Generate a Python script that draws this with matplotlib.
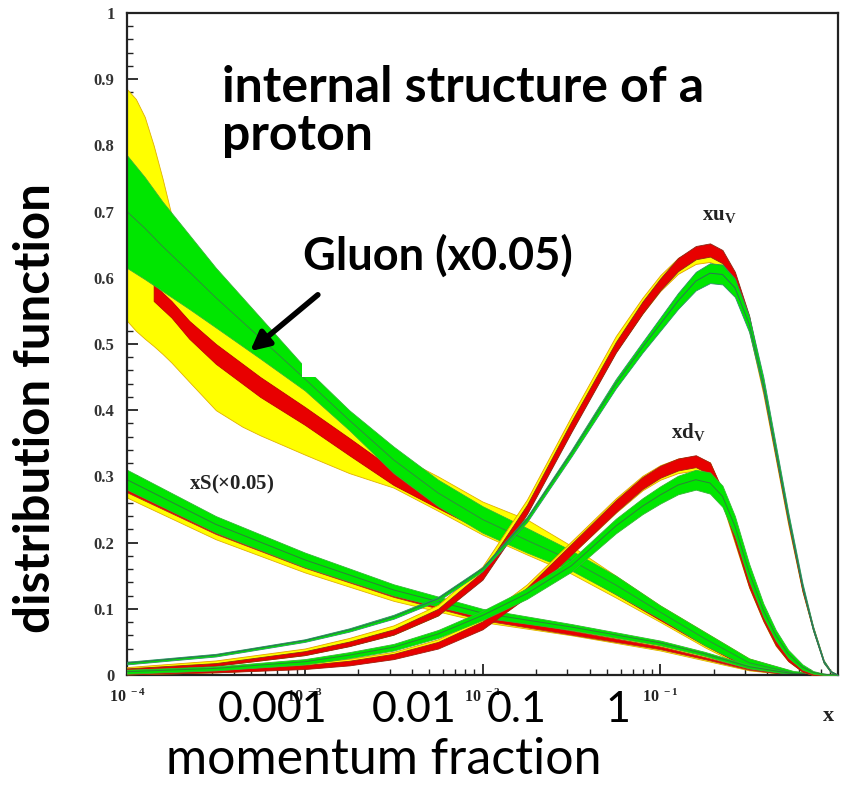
import numpy as np
import matplotlib
matplotlib.use("Agg")
import matplotlib.pyplot as plt
from matplotlib.patches import Rectangle
from matplotlib.ticker import MultipleLocator, LogLocator, NullFormatter

# ---------------- data (log10(x) positions) ----------------
# gluon (x0.05) bands
gl_lx = [-4, -3.9, -3.8, -3.65, -3.5, -3.25, -3, -2.75, -2.5, -2.25, -2, -1.75, -1.5, -1.25, -1, -0.75, -0.5, -0.25, 0]
gl_green_hi = [0.785, 0.752, 0.715, 0.665, 0.615, 0.54, 0.465, 0.40, 0.345, 0.295, 0.255, 0.222, 0.188, 0.15, 0.105, 0.065, 0.025, 0.006, 0.0]
gl_green_lo = [0.615, 0.598, 0.58, 0.553, 0.525, 0.478, 0.43, 0.37, 0.305, 0.255, 0.215, 0.185, 0.158, 0.122, 0.085, 0.045, 0.012, 0.0, 0.0]

gl_red_lx = [-3.85, -3.75, -3.65, -3.5, -3.25, -3, -2.75, -2.5, -2.25, -2, -1.75, -1.5, -1.25, -1, -0.75, -0.5, -0.25, 0]
gl_red_hi = [0.59, 0.565, 0.535, 0.50, 0.45, 0.405, 0.358, 0.31, 0.272, 0.238, 0.21, 0.18, 0.14, 0.098, 0.058, 0.02, 0.004, 0.0]
gl_red_lo = [0.565, 0.54, 0.508, 0.47, 0.42, 0.378, 0.332, 0.287, 0.252, 0.218, 0.19, 0.16, 0.122, 0.083, 0.045, 0.01, 0.0, 0.0]

gl_yel_lx = [-4, -3.95, -3.9, -3.85, -3.8, -3.75, -3.65, -3.5, -3.35, -3.25, -3, -2.75, -2.5, -2.25, -2, -1.75, -1.5, -1.25, -1, -0.75, -0.5, -0.25, 0]
gl_yel_hi = [0.885, 0.87, 0.843, 0.80, 0.75, 0.695, 0.64, 0.58, 0.535, 0.505, 0.445, 0.385, 0.335, 0.30, 0.262, 0.235, 0.195, 0.15, 0.105, 0.065, 0.025, 0.005, 0.0]
gl_yel_lo = [0.535, 0.52, 0.508, 0.497, 0.485, 0.472, 0.443, 0.40, 0.375, 0.362, 0.333, 0.305, 0.283, 0.248, 0.212, 0.182, 0.153, 0.117, 0.08, 0.042, 0.008, 0.0, 0.0]

# sea quarks xS (x0.05)
s_lx = [-4, -3.5, -3, -2.5, -2, -1.5, -1, -0.75, -0.5, -0.25, 0]
s_green_hi = [0.31, 0.24, 0.185, 0.137, 0.1, 0.077, 0.052, 0.035, 0.015, 0.003, 0.0]
s_green_lo = [0.28, 0.215, 0.163, 0.12, 0.087, 0.068, 0.045, 0.029, 0.01, 0.001, 0.0]
s_yel_hi = [0.30, 0.232, 0.178, 0.132, 0.094, 0.07, 0.046, 0.03, 0.012, 0.002, 0.0]
s_yel_lo = [0.268, 0.205, 0.155, 0.112, 0.08, 0.06, 0.037, 0.022, 0.007, 0.0, 0.0]
s_red_hi = [0.292, 0.226, 0.174, 0.128, 0.091, 0.067, 0.043, 0.027, 0.01, 0.001, 0.0]
s_red_lo = [0.276, 0.213, 0.162, 0.118, 0.083, 0.061, 0.039, 0.024, 0.008, 0.0, 0.0]

# valence up xu_v (centre and half width)
u_lx = [-4, -3.5, -3, -2.75, -2.5, -2.25, -2, -1.75, -1.5, -1.25, -1.1, -1, -0.9, -0.8, -0.72, -0.65,
        -0.58, -0.5, -0.42, -0.35, -0.28, -0.2, -0.14, -0.08, -0.04, 0]
u_red = [0.008, 0.016, 0.033, 0.047, 0.065, 0.095, 0.15, 0.25, 0.375, 0.495, 0.555, 0.59, 0.62, 0.638, 0.642, 0.632,
         0.6, 0.535, 0.435, 0.335, 0.235, 0.13, 0.07, 0.02, 0.005, 0.0]
u_red_w = [0.002, 0.002, 0.003, 0.0035, 0.004, 0.005, 0.006, 0.007, 0.008, 0.008, 0.009, 0.009, 0.01, 0.01, 0.01, 0.01,
           0.009, 0.008, 0.006, 0.005, 0.004, 0.003, 0.002, 0.001, 0.0005, 0.0]
u_yel = [0.009, 0.018, 0.035, 0.05, 0.068, 0.098, 0.155, 0.255, 0.38, 0.5, 0.558, 0.592, 0.618, 0.633, 0.636, 0.626,
         0.595, 0.53, 0.432, 0.333, 0.233, 0.13, 0.07, 0.02, 0.005, 0.0]
u_yel_w = [0.003, 0.004, 0.005, 0.006, 0.007, 0.008, 0.009, 0.01, 0.011, 0.012, 0.012, 0.012, 0.012, 0.012, 0.012, 0.012,
           0.011, 0.01, 0.008, 0.007, 0.006, 0.004, 0.003, 0.002, 0.001, 0.0]
u_green = [0.018, 0.03, 0.052, 0.068, 0.088, 0.115, 0.16, 0.235, 0.335, 0.44, 0.495, 0.53, 0.565, 0.595, 0.607, 0.605,
           0.585, 0.53, 0.44, 0.34, 0.24, 0.135, 0.07, 0.02, 0.005, 0.0]
u_green_w = [0.002, 0.002, 0.002, 0.0025, 0.003, 0.003, 0.003, 0.004, 0.005, 0.007, 0.008, 0.01, 0.012, 0.014, 0.015, 0.015,
             0.014, 0.012, 0.01, 0.008, 0.006, 0.004, 0.003, 0.002, 0.001, 0.0]

# valence down xd_v (centre and half width)
d_lx = [-4, -3.5, -3, -2.75, -2.5, -2.25, -2, -1.75, -1.5, -1.25, -1.1, -1, -0.9, -0.8, -0.72, -0.65,
        -0.58, -0.5, -0.42, -0.35, -0.28, -0.2, -0.14, -0.08, 0]
d_red = [0.003, 0.006, 0.012, 0.018, 0.028, 0.045, 0.075, 0.125, 0.19, 0.255, 0.29, 0.307, 0.318, 0.323, 0.312, 0.27,
         0.21, 0.14, 0.088, 0.05, 0.025, 0.008, 0.002, 0.0, 0.0]
d_red_w = [0.002, 0.002, 0.003, 0.0035, 0.004, 0.005, 0.006, 0.007, 0.008, 0.009, 0.009, 0.009, 0.009, 0.009, 0.009, 0.009,
           0.008, 0.007, 0.006, 0.005, 0.004, 0.003, 0.002, 0.001, 0.0]
d_yel = [0.004, 0.007, 0.014, 0.02, 0.03, 0.048, 0.078, 0.128, 0.192, 0.256, 0.29, 0.306, 0.316, 0.32, 0.31, 0.268,
         0.208, 0.14, 0.088, 0.05, 0.025, 0.008, 0.002, 0.0, 0.0]
d_yel_w = [0.003, 0.003, 0.004, 0.0045, 0.005, 0.006, 0.008, 0.009, 0.01, 0.011, 0.011, 0.011, 0.011, 0.011, 0.011, 0.01,
           0.009, 0.008, 0.007, 0.006, 0.004, 0.003, 0.002, 0.001, 0.0]
d_green = [0.005, 0.01, 0.02, 0.03, 0.042, 0.062, 0.09, 0.123, 0.165, 0.225, 0.255, 0.272, 0.287, 0.295, 0.29, 0.27,
           0.225, 0.155, 0.098, 0.06, 0.032, 0.012, 0.004, 0.001, 0.0]
d_green_w = [0.003, 0.003, 0.004, 0.0045, 0.005, 0.006, 0.007, 0.008, 0.009, 0.011, 0.012, 0.013, 0.014, 0.015, 0.016, 0.016,
             0.015, 0.013, 0.01, 0.008, 0.006, 0.004, 0.002, 0.001, 0.0]

y_ticks = [0, 0.1, 0.2, 0.3, 0.4, 0.5, 0.6, 0.7, 0.8, 0.9, 1.0]
y_ticklabels = ["0", "0.1", "0.2", "0.3", "0.4", "0.5", "0.6", "0.7", "0.8", "0.9", "1"]
x_ticks = [1e-4, 1e-3, 1e-2, 1e-1, 1]
x_ticklabels = [r"$\mathrm{10^{\ -4}}$", r"$\mathrm{10^{\ -3}}$", r"$\mathrm{10^{\ -2}}$", r"$\mathrm{10^{\ -1}}$", ""]
overlay_ticks = ["0.001", "0.01", "0.1", "1"]

YELLOW = "#ffff00"
RED = "#e80000"
GREEN = "#00e600"

plt.rcParams["mathtext.fontset"] = "custom"
plt.rcParams["mathtext.rm"] = "Liberation Serif:bold"
plt.rcParams["mathtext.it"] = "Liberation Serif:bold"
plt.rcParams["mathtext.bf"] = "Liberation Serif:bold"

W, H = 846, 787
fig = plt.figure(figsize=(W / 100, H / 100), dpi=100)
ax = fig.add_axes([127 / W, 1 - 675 / H, (838 - 127) / W, (675 - 13) / H])


def fig_xy(px, py):
    return px / W, 1 - py / H


def band(lx, lo, hi, face, edge, mid=None, z=2):
    x = 10.0 ** np.array(lx)
    lo = np.array(lo)
    hi = np.array(hi)
    ax.fill_between(x, lo, hi, facecolor=face, edgecolor=edge, linewidth=0.6, zorder=z)
    if mid is not None:
        ax.plot(x, (lo + hi) / 2, color=mid, lw=0.7, zorder=z + 0.1)


def cband(lx, c, w, face, edge, mid=None, z=2):
    c = np.array(c)
    w = np.array(w)
    band(lx, c - w, c + w, face, edge, mid, z)


# gluon
band(gl_yel_lx, gl_yel_lo, gl_yel_hi, YELLOW, "#e0b000", z=2)
band(gl_red_lx, gl_red_lo, gl_red_hi, RED, "#c00000", z=2.2)
band(gl_lx, gl_green_lo, gl_green_hi, GREEN, "#33b833", mid="#2f8f3a", z=2.4)

# xS
band(s_lx, s_yel_lo, s_yel_hi, YELLOW, "#e0b000", z=2)
band(s_lx, s_red_lo, s_red_hi, RED, "#b03020", z=2.2)
band(s_lx, s_green_lo, s_green_hi, GREEN, "#33b833", mid="#2f7f3a", z=2.4)

# xd_v
cband(d_lx, d_yel, d_yel_w, YELLOW, "#e0a000", z=3)
cband(d_lx, d_red, d_red_w, RED, "#a02010", z=3.2)
cband(d_lx, d_green, d_green_w, GREEN, "#33b833", mid="#2f7f3a", z=3.4)

# xu_v
cband(u_lx, u_yel, u_yel_w, YELLOW, "#e0a000", z=3)
cband(u_lx, u_red, u_red_w, RED, "#8a2a15", z=3.2)
cband(u_lx, u_green, u_green_w, GREEN, "#2f8f6a", mid="#2f6f5a", z=3.4)

ax.set_xscale("log")
ax.set_xlim(1e-4, 1)
ax.set_ylim(0, 1)

ax.set_yticks(y_ticks)
ax.set_yticklabels(y_ticklabels)
ax.yaxis.set_minor_locator(MultipleLocator(0.02))
ax.set_xticks(x_ticks)
ax.set_xticklabels(x_ticklabels)
ax.xaxis.set_minor_locator(LogLocator(base=10, subs=np.arange(2, 10), numticks=20))
ax.xaxis.set_minor_formatter(NullFormatter())

ax.tick_params(which="both", direction="in", top=False, right=False, colors="#222222")
ax.tick_params(which="major", length=8, width=1.3)
ax.tick_params(which="minor", length=4, width=1.0)
ax.tick_params(axis="y", pad=9, labelsize=12)
ax.tick_params(axis="x", pad=9, labelsize=11.5)
for lab in ax.get_yticklabels():
    lab.set_fontfamily("Liberation Serif")
    lab.set_fontweight("bold")
    lab.set_color("#333333")
for sp in ax.spines.values():
    sp.set_linewidth(1.6)
    sp.set_color("#222222")

# white text box behind the Gluon label (hides a corner of the band)
ax.add_patch(Rectangle(fig_xy(302, 377), (590 - 302) / W, (377 - 225) / H,
                       transform=fig.transFigure, facecolor="white", edgecolor="none", zorder=5))

# curve labels (original figure style)
serif = dict(family="Liberation Serif", weight="bold", color="#222222")
fig.text(*fig_xy(232, 484), r"xS($\times$0.05)", ha="center", va="center", fontsize=15, **serif)
fig.text(*fig_xy(719, 215), r"xu$_\mathrm{V}$", ha="center", va="center", fontsize=15, **serif)
fig.text(*fig_xy(688, 432), r"xd$_\mathrm{V}$", ha="center", va="center", fontsize=15, **serif)
fig.text(*fig_xy(828, 716), "x", ha="center", va="center", fontsize=16, **serif)

# overlay annotation
big = dict(family="Lato", color="black")
fig.text(*fig_xy(222, 102), "internal structure of a", ha="left", va="baseline",
         fontsize=36, fontweight="bold", **big)
fig.text(*fig_xy(222, 150), "proton", ha="left", va="baseline",
         fontsize=36, fontweight="bold", **big)
fig.text(*fig_xy(303, 270), "Gluon (x0.05)", ha="left", va="baseline",
         fontsize=32.5, fontweight="bold", **big)
ax.annotate("", xy=fig_xy(248, 353), xytext=fig_xy(320, 293), xycoords="figure fraction",
            textcoords="figure fraction",
            arrowprops=dict(arrowstyle="-|>", color="black", lw=4, mutation_scale=28), zorder=6)

for lab, px in zip(overlay_ticks, [273, 414, 517, 618]):
    fig.text(*fig_xy(px, 710), lab, ha="center", va="center", fontsize=31, **big)
fig.text(*fig_xy(384, 760), "momentum fraction", ha="center", va="center", fontsize=36, **big)
fig.text(*fig_xy(36, 408), "distribution function", ha="center", va="center", rotation=90,
         fontsize=35.5, fontweight="bold", **big)

fig.savefig("out.png", dpi=100, facecolor="white")
